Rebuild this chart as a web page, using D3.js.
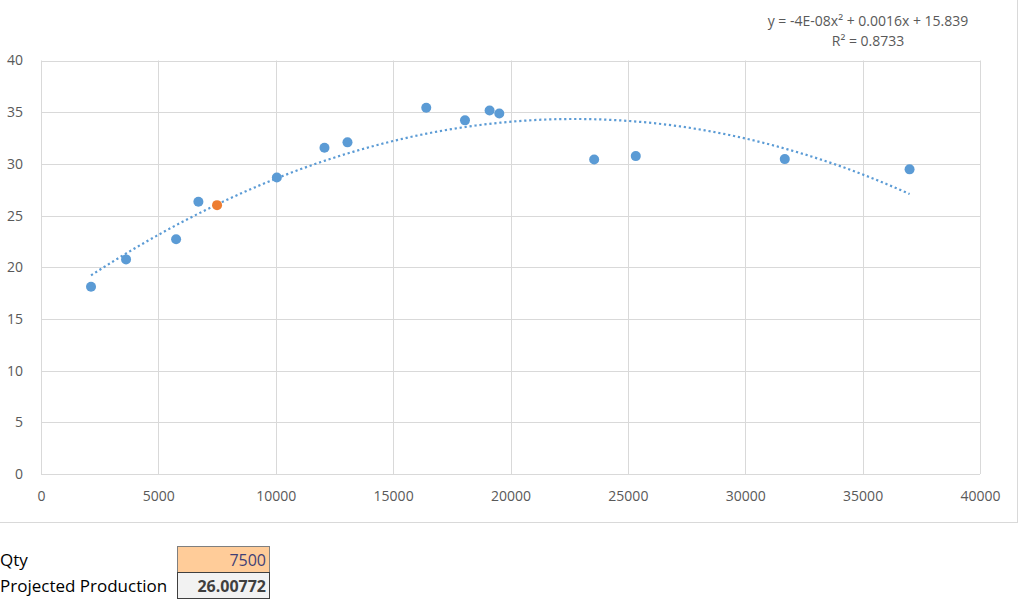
<!DOCTYPE html>
<html>
<head>
<meta charset="utf-8">
<script src="https://cdn.jsdelivr.net/npm/d3@7"></script>
<style>
  body { margin: 0; background: #fff; }
  svg { display: block; font-family: "Open Sans", sans-serif; }
</style>
</head>
<body>
<script>
// blue series (qty vs production)
var qtyValues = [2131, 3623, 5755, 6705, 10047, 12076, 13056, 16411, 18061, 19110, 19523, 23564, 25337, 31684, 37000];
var prodValues = [18.11, 20.76, 22.70, 26.34, 28.69, 31.56, 32.08, 35.43, 34.21, 35.17, 34.88, 30.43, 30.75, 30.46, 29.47];
// projected point (orange)
var projQty = [7500];
var projProd = [26.00772];
var xTicks = [0, 5000, 10000, 15000, 20000, 25000, 30000, 35000, 40000];
var yTicks = [0, 5, 10, 15, 20, 25, 30, 35, 40];
var trendLabels = ["y = -4E-08x\u00B2 + 0.0016x + 15.839", "R\u00B2 = 0.8733"];
var tableLabels = ["Qty", "Projected Production"];

var W = 1023, H = 602;
var svg = d3.select("body").append("svg").attr("width", W).attr("height", H);

// chart area border
svg.append("rect")
  .attr("x", -1).attr("y", -1)
  .attr("width", 1018.5).attr("height", 523.5)
  .attr("fill", "#fff").attr("stroke", "#d9d9d9").attr("stroke-width", 1);

var x = d3.scaleLinear().domain([0, 40000]).range([41, 980]);
var y = d3.scaleLinear().domain([0, 40]).range([474, 60.5]);

// gridlines
svg.append("g").selectAll("line.vg").data(xTicks).enter().append("line")
  .attr("x1", function(d){ return Math.round(x(d)) + 0.5; })
  .attr("x2", function(d){ return Math.round(x(d)) + 0.5; })
  .attr("y1", y(40)).attr("y2", y(0))
  .attr("stroke", "#d9d9d9").attr("stroke-width", 1);
svg.append("g").selectAll("line.hg").data(yTicks).enter().append("line")
  .attr("y1", function(d){ return Math.round(y(d)) + 0.5; })
  .attr("y2", function(d){ return Math.round(y(d)) + 0.5; })
  .attr("x1", x(0)).attr("x2", x(40000))
  .attr("stroke", "#d9d9d9").attr("stroke-width", 1);

// axes (labels only, lines drawn by grid)
var xAxis = svg.append("g").attr("transform", "translate(0," + (y(0) + 14) + ")")
  .call(d3.axisBottom(x).tickValues(xTicks).tickSize(0).tickFormat(d3.format("d")));
var yAxis = svg.append("g").attr("transform", "translate(" + (x(0) - 15) + ",0)")
  .call(d3.axisLeft(y).tickValues(yTicks).tickSize(0).tickFormat(d3.format("d")));
[xAxis, yAxis].forEach(function(a){
  a.select(".domain").remove();
  a.selectAll("text").attr("fill", "#595959").style("font-size", "14px").style("font-family", "Open Sans");
});

// quadratic least-squares trendline from the blue points
function polyFit(xs, ys){
  var S = [0,0,0,0,0], T = [0,0,0];
  xs.forEach(function(xv, i){
    var p = 1;
    for (var k = 0; k < 5; k++){ S[k] += p; if (k < 3) T[k] += p * ys[i]; p *= xv; }
  });
  var A = [[S[0],S[1],S[2],T[0]],[S[1],S[2],S[3],T[1]],[S[2],S[3],S[4],T[2]]];
  for (var c = 0; c < 3; c++){
    for (var r = c + 1; r < 3; r++){
      var f = A[r][c] / A[c][c];
      for (var j = c; j < 4; j++) A[r][j] -= f * A[c][j];
    }
  }
  var b = [0,0,0];
  for (var r2 = 2; r2 >= 0; r2--){
    var s = A[r2][3];
    for (var j2 = r2 + 1; j2 < 3; j2++) s -= A[r2][j2] * b[j2];
    b[r2] = s / A[r2][r2];
  }
  return b;
}
var coef = polyFit(qtyValues, prodValues);
var xmin = d3.min(qtyValues), xmax = d3.max(qtyValues);
var trendPts = d3.range(0, 101).map(function(i){
  var xv = xmin + (xmax - xmin) * i / 100;
  return [xv, coef[0] + coef[1] * xv + coef[2] * xv * xv];
});
svg.append("path")
  .attr("d", d3.line().x(function(d){ return x(d[0]); }).y(function(d){ return y(d[1]); })(trendPts))
  .attr("fill", "none").attr("stroke", "#5b9bd5").attr("stroke-width", 2.2)
  .attr("stroke-dasharray", "2.2 2.8");

// points
svg.append("g").selectAll("circle").data(qtyValues).enter().append("circle")
  .attr("cx", function(d){ return x(d); })
  .attr("cy", function(d, i){ return y(prodValues[i]); })
  .attr("r", 5).attr("fill", "#5b9bd5");
svg.append("g").selectAll("circle").data(projQty).enter().append("circle")
  .attr("cx", function(d){ return x(d); })
  .attr("cy", function(d, i){ return y(projProd[i]); })
  .attr("r", 5).attr("fill", "#ed7d31");

// trendline label
svg.append("g").selectAll("text").data(trendLabels).enter().append("text")
  .attr("x", 868).attr("y", function(d, i){ return 26 + i * 20; })
  .attr("text-anchor", "middle").attr("fill", "#595959")
  .style("font-size", "14px")
  .text(function(d){ return d; });

// worksheet cells below chart
svg.append("g").selectAll("text").data(tableLabels).enter().append("text")
  .attr("x", 0).attr("y", function(d, i){ return 566 + i * 26; })
  .attr("fill", "#000").style("font-size", "17px")
  .text(function(d){ return d; });

svg.append("rect").attr("x", 177.5).attr("y", 546.5).attr("width", 92).attr("height", 26)
  .attr("fill", "#ffcc99").attr("stroke", "#7f7f7f").attr("stroke-width", 1);
svg.append("rect").attr("x", 177.5).attr("y", 572.5).attr("width", 92).attr("height", 26)
  .attr("fill", "#f2f2f2").attr("stroke", "#3f3f3f").attr("stroke-width", 1);
svg.append("text").attr("x", 266).attr("y", 566)
  .attr("text-anchor", "end").attr("fill", "#3f3f76").style("font-size", "16px")
  .text(d3.format("d")(projQty[0]));
svg.append("text").attr("x", 266).attr("y", 592)
  .attr("text-anchor", "end").attr("fill", "#3f3f3f").style("font-size", "16px").style("font-weight", "bold")
  .text(projProd[0].toFixed(5));
</script>
</body>
</html>
